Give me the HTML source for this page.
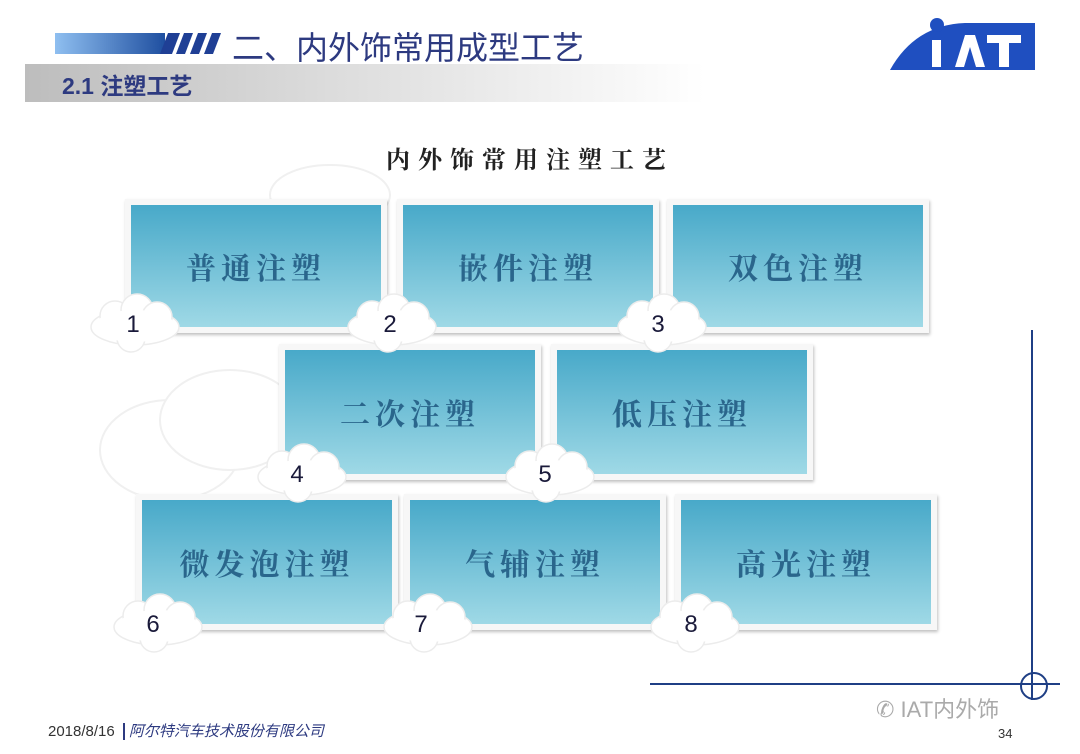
<!DOCTYPE html>
<html><head><meta charset="utf-8"><style>
body{margin:0;width:1080px;height:754px;background:#fff;position:relative;overflow:hidden;font-family:"Liberation Sans","Noto Sans CJK SC",sans-serif}
.abs{position:absolute}
.box{position:absolute;background:linear-gradient(#48a9c9,#9fd9e6);border:6px solid #f7f7f7;box-shadow:1px 2px 3px rgba(0,0,0,.25);display:flex;align-items:center;justify-content:center;color:#2a668c;font-size:30px;font-weight:bold;letter-spacing:5px;font-family:"Noto Serif CJK SC","Noto Sans CJK SC",serif;box-sizing:border-box}
.num{position:absolute;font-size:24px;color:#1a1a3a;width:80px;text-align:center}
</style></head><body>
<div class="abs" style="left:55px;top:33px;width:110px;height:21px;background:linear-gradient(90deg,#8fbff0,#1f4fa0)"></div>
<svg class="abs" style="left:160px;top:33px" width="70" height="22"><g fill="#1f3f95"><polygon points="8,0 20,0 12,21 0,21"/><polygon points="24,0 33,0 25,21 16,21"/><polygon points="38,0 47,0 39,21 30,21"/><polygon points="52,0 61,0 53,21 44,21"/></g></svg>
<div class="abs" style="left:232px;top:23px;font-size:32px;color:#2d3a80">二、内外饰常用成型工艺</div>
<div class="abs" style="left:25px;top:64px;width:680px;height:38px;background:linear-gradient(90deg,#bdbdbd,#dcdcdc 45%,#fff)"></div>
<div class="abs" style="left:62px;top:67px;font-size:23px;color:#2d3a80;font-weight:bold">2.1 注塑工艺</div>
<svg class="abs" style="left:885px;top:15px" width="160" height="60"><path d="M5,55 Q30,10 80,8 L150,8 L150,55 Z" fill="#1f4fc0"/><circle cx="52" cy="10" r="7" fill="#1f4fc0"/><g fill="#fff"><rect x="47" y="25" width="9" height="27"/><polygon points="70,52 80,20 90,20 100,52 91,52 85,32 79,52"/><rect x="102" y="20" width="34" height="8"/><rect x="114" y="20" width="10" height="32"/></g></svg>
<div class="abs" style="left:386px;top:140px;font-size:24px;letter-spacing:8px;color:#222;font-weight:bold;font-family:'Noto Serif CJK SC',serif">内外饰常用注塑工艺</div>
<svg class="abs" style="left:0;top:0" width="1080" height="754"><g fill="#fff" stroke="#f0f0f0" stroke-width="2"><ellipse cx="330" cy="195" rx="60" ry="30"/><ellipse cx="170" cy="450" rx="70" ry="50"/><ellipse cx="230" cy="420" rx="70" ry="50"/></g>
<line x1="1032" y1="330" x2="1032" y2="700" stroke="#1f3f85" stroke-width="2"/>
<line x1="650" y1="684" x2="1060" y2="684" stroke="#1f3f85" stroke-width="2"/>
<circle cx="1034" cy="686" r="13" fill="none" stroke="#1f3f85" stroke-width="2"/></svg>
<div class="box" style="left:125px;top:199px;width:262px;height:134px">普通注塑</div>
<div class="box" style="left:397px;top:199px;width:262px;height:134px">嵌件注塑</div>
<div class="box" style="left:667px;top:199px;width:262px;height:134px">双色注塑</div>
<div class="box" style="left:279px;top:344px;width:262px;height:136px">二次注塑</div>
<div class="box" style="left:551px;top:344px;width:262px;height:136px">低压注塑</div>
<div class="box" style="left:136px;top:494px;width:262px;height:136px">微发泡注塑</div>
<div class="box" style="left:404px;top:494px;width:262px;height:136px">气辅注塑</div>
<div class="box" style="left:675px;top:494px;width:262px;height:136px">高光注塑</div>
<svg class="abs" style="left:0;top:0" width="1080" height="754"><defs><g id="c"><ellipse cx="0" cy="5" rx="44" ry="18"/><circle cx="-20" cy="-6" r="15"/><circle cx="2" cy="-12" r="16"/><circle cx="22" cy="-5" r="15"/><circle cx="-4" cy="16" r="14"/></g></defs>
<g fill="#fff" stroke="#ececec" stroke-width="1.5">
<use href="#c" x="135" y="322"/><use href="#c" x="392" y="322"/><use href="#c" x="662" y="322"/>
<use href="#c" x="302" y="472"/><use href="#c" x="550" y="472"/>
<use href="#c" x="158" y="622"/><use href="#c" x="428" y="622"/><use href="#c" x="695" y="622"/></g>
<g fill="#fff"><ellipse cx="135" cy="326" rx="40" ry="16"/><ellipse cx="392" cy="326" rx="40" ry="16"/><ellipse cx="662" cy="326" rx="40" ry="16"/><ellipse cx="302" cy="476" rx="40" ry="16"/><ellipse cx="550" cy="476" rx="40" ry="16"/><ellipse cx="158" cy="626" rx="40" ry="16"/><ellipse cx="428" cy="626" rx="40" ry="16"/><ellipse cx="695" cy="626" rx="40" ry="16"/></g></svg>
<div class="num" style="left:93px;top:311px">1</div>
<div class="num" style="left:350px;top:311px">2</div>
<div class="num" style="left:618px;top:311px">3</div>
<div class="num" style="left:257px;top:461px">4</div>
<div class="num" style="left:505px;top:461px">5</div>
<div class="num" style="left:113px;top:611px">6</div>
<div class="num" style="left:381px;top:611px">7</div>
<div class="num" style="left:651px;top:611px">8</div>
<div class="abs" style="left:48px;top:720px;font-size:15px;color:#333">2018/8/16 <span style="border-left:2px solid #2d3a80;margin:0 4px"></span> <i style="color:#2d3a80">阿尔特汽车技术股份有限公司</i></div>
<div class="abs" style="left:876px;top:692px;font-size:22px;color:#aaa">✆ IAT内外饰</div>
<div class="abs" style="left:998px;top:726px;font-size:13px;color:#333">34</div>
</body></html>
